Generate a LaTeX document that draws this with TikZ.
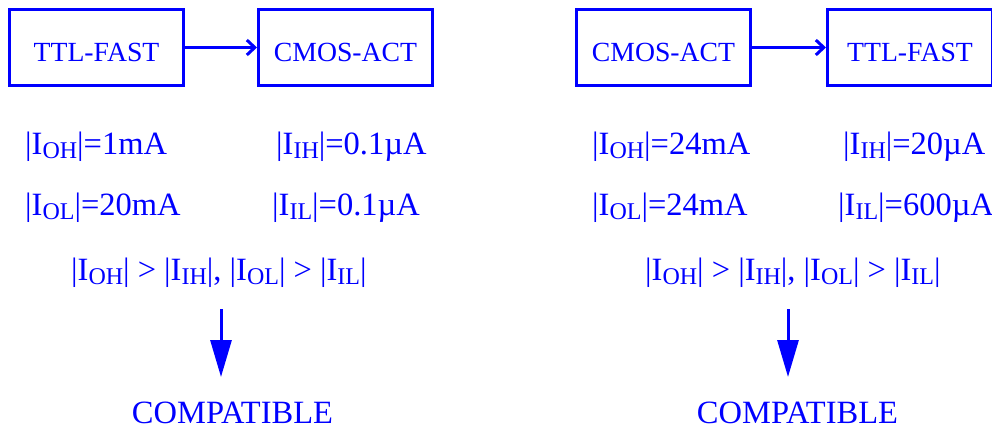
\documentclass[tikz,border=0pt]{standalone}
\usepackage{fontspec}
\setmainfont{Liberation Serif}
\usetikzlibrary{arrows.meta}
\definecolor{ink}{RGB}{0,0,255}
% lowered, smaller subscript for current names
\newcommand\subs[1]{\raisebox{-4.5pt}{\fontsize{24}{24}\selectfont #1}}
\newcommand\cur[1]{|I\subs{#1}|}
\begin{document}
\begin{tikzpicture}[x=1pt,y=-1pt,
  gate/.style={draw=ink, line width=3pt, minimum width=174pt, minimum height=75pt,
    inner sep=0pt, text height=29pt, text depth=0pt, text=ink,
    font=\fontsize{27.7}{28}\selectfont},
  link/.style={draw=ink, line width=3pt, -{Straight Barb[length=8pt,width=15pt]}},
  drop/.style={draw=ink, line width=3pt, -{Triangle[length=37pt,width=21pt]}},
  val/.style={text=ink, inner sep=0pt, anchor=base west, font=\fontsize{32.5}{36}\selectfont},
  verdict/.style={text=ink, inner sep=0pt, anchor=base, font=\fontsize{32.5}{36}\selectfont}]
\useasboundingbox (0,0) rectangle (992,428);

% left: TTL-FAST driving CMOS-ACT
\node[gate] (l1) at (96.5,47.5) {TTL-FAST};
\node[gate] (l2) at (345.5,47.5) {CMOS-ACT};
\draw[link] (l1.east) -- (l2.west);
\node[val] (loh) at (25,154) {\cur{OH}=1mA};
\node[val] (lih) at (276,154) {\cur{IH}=0.1µA};
\node[val] (lol) at (25,215) {\cur{OL}=20mA};
\node[val] (lil) at (272,215) {\cur{IL}=0.1µA};
\node[val] (lcond) at (71,280) {\cur{OH} > \cur{IH}, \cur{OL} > \cur{IL}};
\coordinate (ltop) at (221,309);
\coordinate (lbot) at (221,377);
\draw[drop] (ltop) -- (lbot);
\node[verdict] (lok) at (232.5,423) {COMPATIBLE};

% right: CMOS-ACT driving TTL-FAST
\node[gate] (r1) at (663.5,47.5) {CMOS-ACT};
\node[gate, minimum width=165pt] (r2) at (910,47.5) {TTL-FAST};
\draw[link] (r1.east) -- (r2.west);
\node[val] (roh) at (592,154) {\cur{OH}=24mA};
\node[val] (rih) at (843,154) {\cur{IH}=20µA};
\node[val] (rol) at (592,215) {\cur{OL}=24mA};
\node[val] (ril) at (838,215) {\cur{IL}=600µA};
\node[val] (rcond) at (645,280) {\cur{OH} > \cur{IH}, \cur{OL} > \cur{IL}};
\coordinate (rtop) at (788,309);
\coordinate (rbot) at (788,377);
\draw[drop] (rtop) -- (rbot);
\node[verdict] (rok) at (797.5,423) {COMPATIBLE};
\end{tikzpicture}
\end{document}
